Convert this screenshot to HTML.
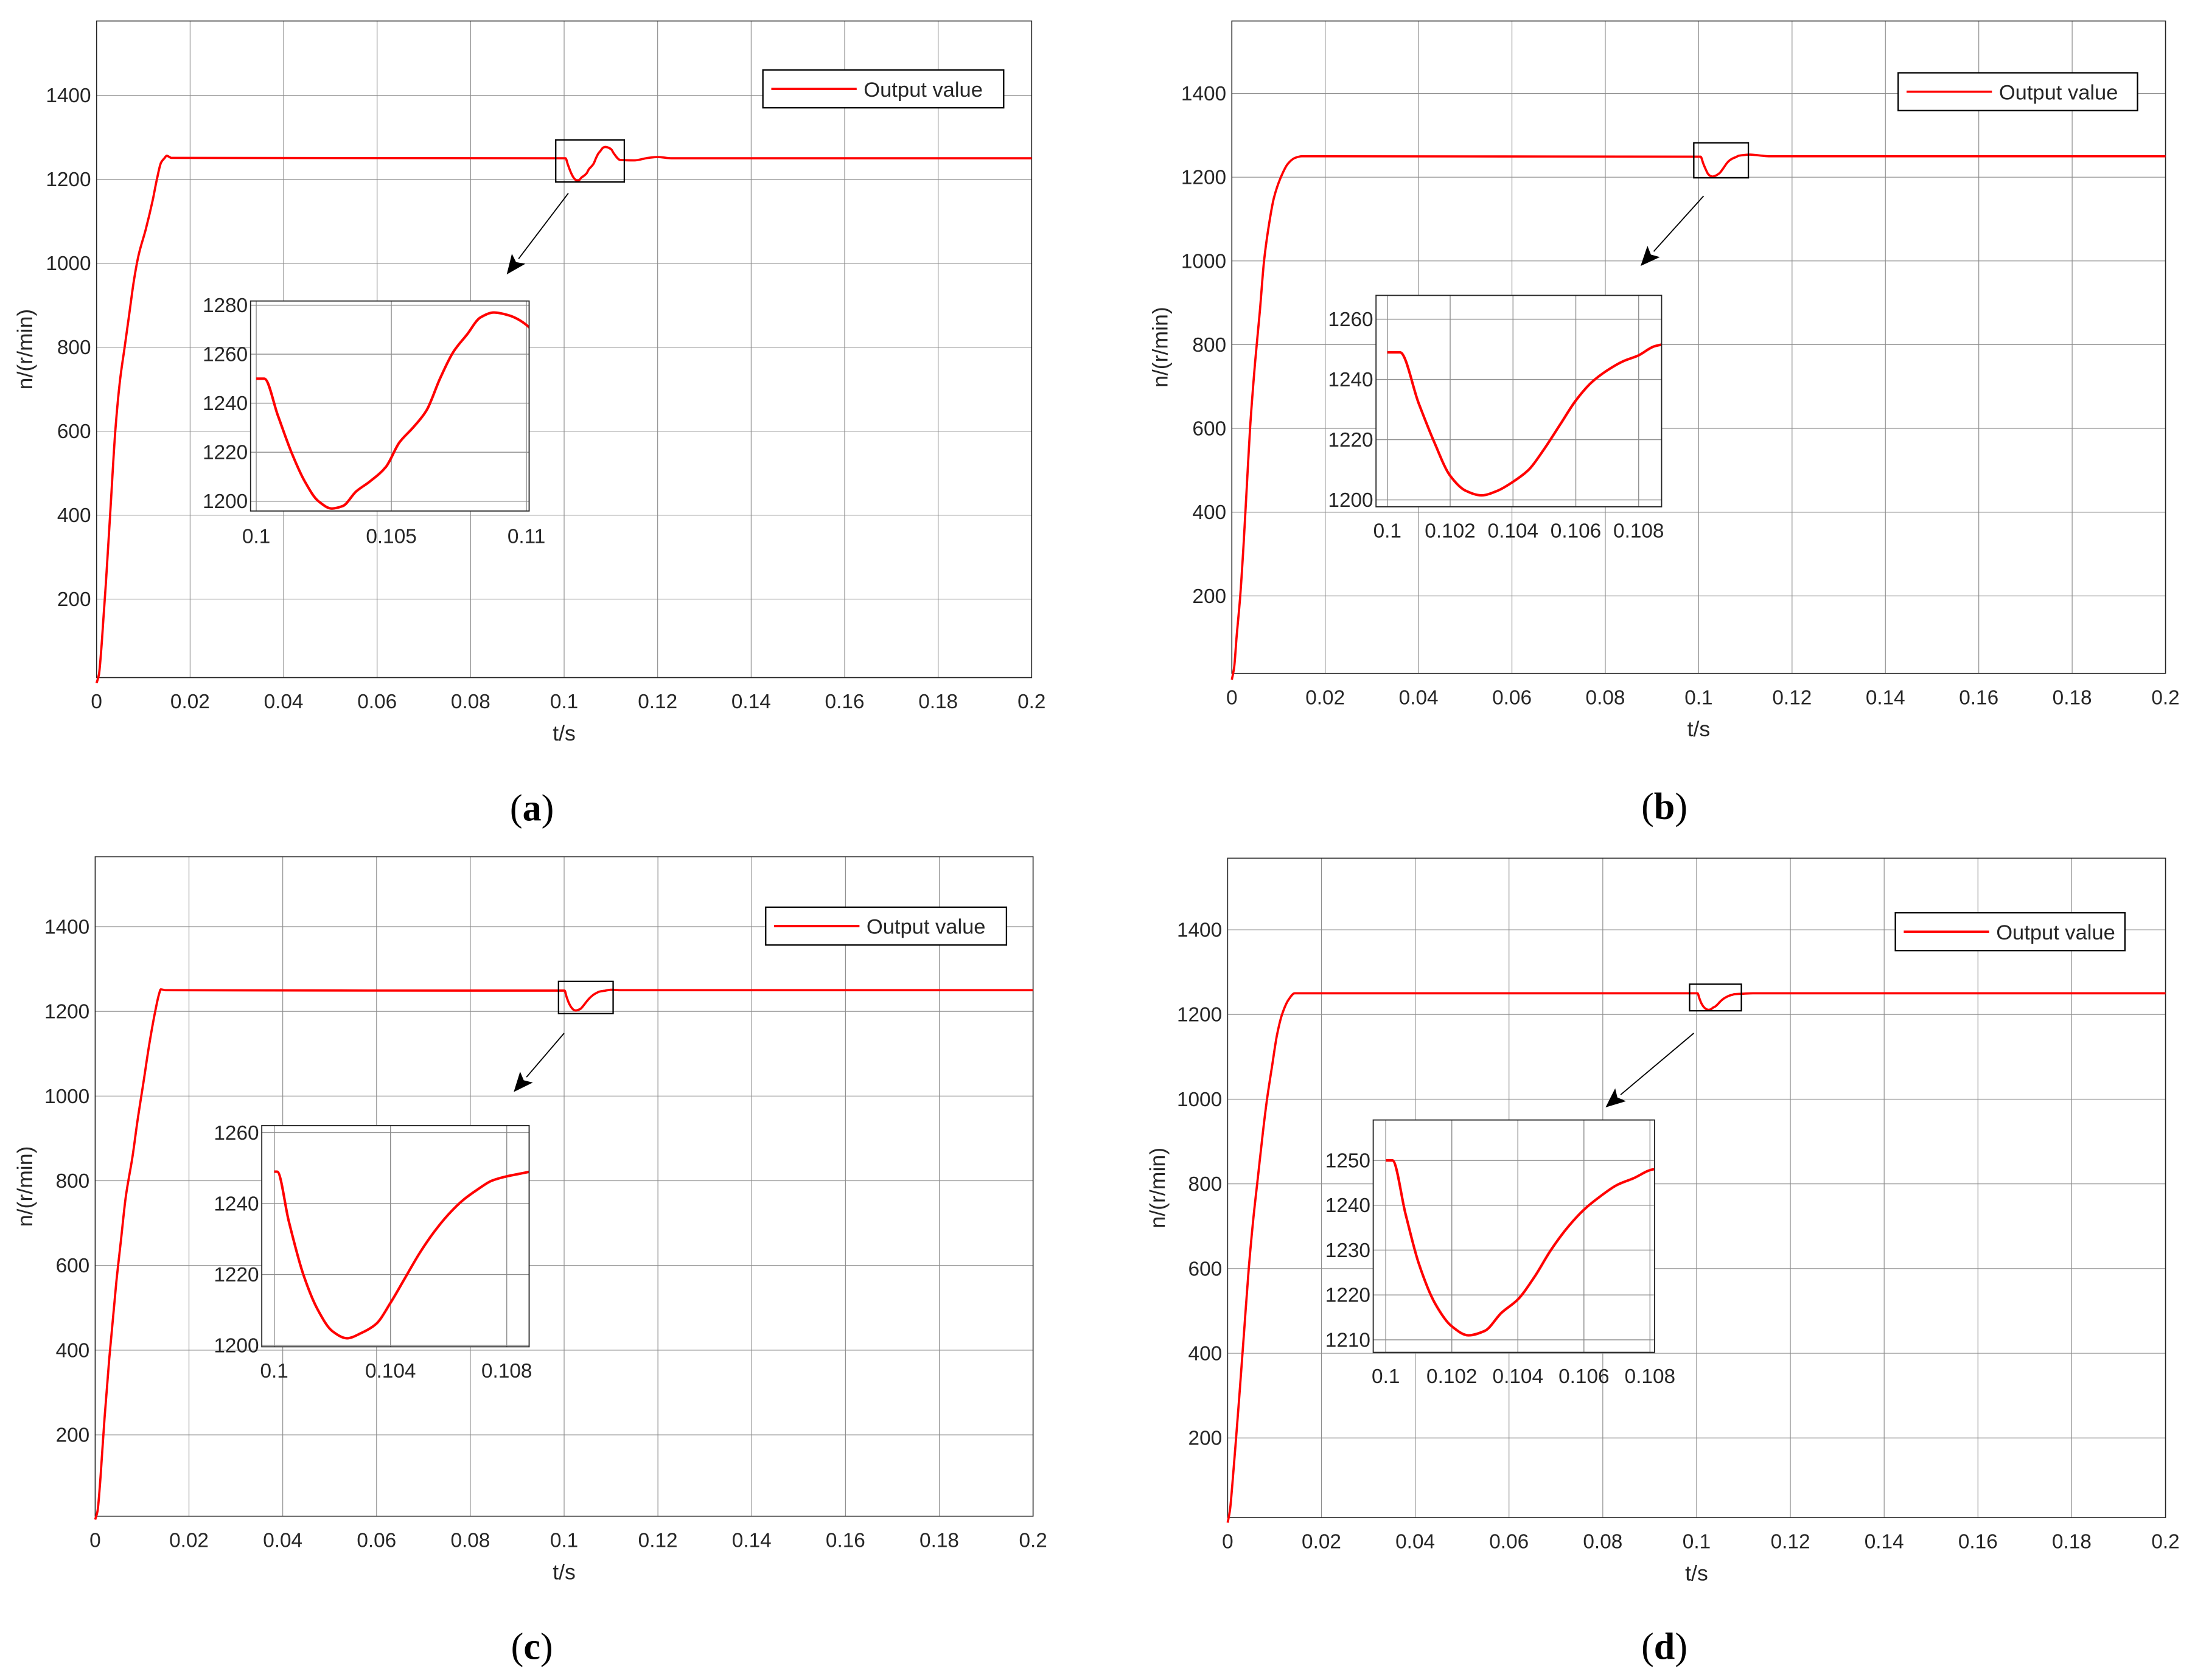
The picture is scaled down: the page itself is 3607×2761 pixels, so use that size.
<!DOCTYPE html>
<html><head><meta charset="utf-8"><style>
html,body{margin:0;padding:0;background:#fff;}
svg{display:block;}
text{font-family:"Liberation Sans",sans-serif;fill:#262626;}
</style></head><body>
<svg id="fig" width="3607" height="2761" viewBox="0 0 3607 2761" xmlns="http://www.w3.org/2000/svg">
<g id="root" transform="scale(2.3003,2.3008)"></g>
</svg>
<script>
// ---- data (t in s, n in r/min) ----
const riseTA=[0,0.0005,0.001,0.0015,0.002,0.003,0.004,0.005,0.006,0.007,0.008,0.009,0.0105,0.012,0.0129,0.0138,0.0145,0.015,0.016];
const riseNA=[0,20,80,160,240,420,600,720,800,880,960,1020,1080,1150,1200,1240,1250,1256,1251];
const distTA=[0.1,0.1003,0.1008,0.1013,0.1018,0.1023,0.1028,0.1032,0.1037,0.1042,0.1048,0.1053,0.1058,0.1063,0.1068,0.1073,0.1078,0.1083,0.1088,0.1093,0.1101,0.1106,0.112,0.115,0.118,0.12,0.123,0.2];
const distNA=[1250,1250,1235,1220,1208,1200,1197,1198,1204,1208,1214,1224,1230,1237,1250,1261,1268,1275,1277,1276,1271,1262,1246,1245,1251,1253,1250,1250];

const riseTB=[0,0.0005,0.001,0.0018,0.0025,0.0032,0.0039,0.005,0.006,0.0069,0.008,0.009,0.0105,0.012,0.0135,0.015,0.016];
const riseNB=[0,30,100,200,320,460,600,760,880,1000,1090,1150,1200,1232,1246,1250,1250];
const distTB=[0.1,0.1004,0.101,0.1015,0.102,0.1025,0.103,0.1035,0.104,0.1045,0.105,0.1055,0.106,0.1065,0.107,0.1075,0.108,0.1085,0.109,0.111,0.113,0.115,0.2];
const distNB=[1249,1249,1232,1219,1208,1203,1201.5,1203,1206,1210,1217,1225,1233,1239,1243,1246,1248,1251,1252,1254,1252,1250,1250];

const riseTC=[0,0.0005,0.001,0.0015,0.002,0.003,0.0045,0.0055,0.0065,0.008,0.009,0.0104,0.0115,0.0128,0.0136,0.014,0.015];
const riseNC=[0,20,80,160,240,380,560,660,760,860,940,1040,1120,1200,1240,1252,1250];
const distTC=[0.1,0.1001,0.1005,0.101,0.1015,0.102,0.1025,0.103,0.1035,0.104,0.1045,0.105,0.1055,0.106,0.1065,0.107,0.1075,0.1088,0.11,0.112,0.2];
const distNC=[1249,1249,1235,1220,1210,1204,1202,1203.5,1206,1212,1219,1226,1232,1237,1241,1244,1246.5,1249,1251,1250,1250];

const riseTD=[0,0.0005,0.001,0.0018,0.0025,0.0035,0.0045,0.0055,0.0065,0.0075,0.0084,0.0095,0.0105,0.0116,0.013,0.0143,0.016];
const riseND=[0,30,90,200,300,450,600,720,820,920,1000,1080,1150,1200,1235,1250,1250];
const distTD=[0.1,0.1002,0.1006,0.101,0.1015,0.102,0.1025,0.103,0.1035,0.104,0.1045,0.105,0.1055,0.106,0.1065,0.107,0.1075,0.1081,0.11,0.112,0.2];
const distND=[1250,1250,1238,1227,1218,1213,1211,1212,1216,1219,1224,1230,1235,1239,1242,1244.5,1246,1248,1249,1250,1250];

const mainXTicks=[0,0.02,0.04,0.06,0.08,0.1,0.12,0.14,0.16,0.18,0.2];
const mainXLabels=["0","0.02","0.04","0.06","0.08","0.1","0.12","0.14","0.16","0.18","0.2"];
const mainYTicks=[200,400,600,800,1000,1200,1400];
const insetXTicksA=[0.1,0.105,0.11];
const insetXLabelsA=["0.1","0.105","0.11"];
const insetYTicksA=[1200,1220,1240,1260,1280];
const insetXTicksBD=[0.1,0.102,0.104,0.106,0.108];
const insetXLabelsBD=["0.1","0.102","0.104","0.106","0.108"];
const insetYTicksB=[1200,1220,1240,1260];
const insetXTicksC=[0.1,0.104,0.108];
const insetXLabelsC=["0.1","0.104","0.108"];
const insetYTicksC=[1200,1220,1240,1260];
const insetYTicksD=[1210,1220,1230,1240,1250];

const NS="http://www.w3.org/2000/svg";
const root=document.getElementById('root');
function el(tag,attrs,parent){const e=document.createElementNS(NS,tag);for(const k in attrs)e.setAttribute(k,attrs[k]);(parent||root).appendChild(e);return e;}

const panels=[
 {id:'a',L:69,R:737,T:15,B:484,y0:13,y1:1577,lx:18,xl:501,ts:524,cap:[380,577],
  leg:[545,50,172,27],zr:[397,100,49,30],ar:[406,138,362,196],
  ins:{L:179,R:378,T:215,B:365,x0:0.09979,x1:0.1101,y0:1196,y1:1281.7,xt:insetXTicksA,xl:insetXLabelsA,yt:insetYTicksA,ly:383},
  rt:riseTA,rn:riseNA,dt:distTA,dn:distNA},
 {id:'b',L:880,R:1547,T:15,B:481,y0:15,y1:1573,lx:829,xl:498,ts:521,cap:[1189,576],
  leg:[1356,52,171,27],zr:[1210,102,39,25],ar:[1217,140,1172,190],
  ins:{L:983,R:1187,T:211,B:362,x0:0.09964,x1:0.10873,y0:1197.7,y1:1267.9,xt:insetXTicksBD,xl:insetXLabelsBD,yt:insetYTicksB,ly:379},
  rt:riseTB,rn:riseNB,dt:distTB,dn:distNB},
 {id:'c',L:68,R:738,T:612,B:1083,y0:8,y1:1565,lx:18,xl:1100,ts:1123,cap:[380,1176],
  leg:[547,648,172,27],zr:[399,701,39,23],ar:[403,738,367,780],
  ins:{L:187,R:378,T:804,B:962,x0:0.09957,x1:0.10877,y0:1199.6,y1:1262,xt:insetXTicksC,xl:insetXLabelsC,yt:insetYTicksC,ly:979},
  rt:riseTC,rn:riseNC,dt:distTC,dn:distNC},
 {id:'d',L:877,R:1547,T:613,B:1084,y0:12,y1:1569,lx:827,xl:1101,ts:1124,cap:[1189,1176],
  leg:[1354,652,164,27],zr:[1207,703,37,19],ar:[1210,738,1147,791],
  ins:{L:981,R:1182,T:800,B:966,x0:0.09962,x1:0.10814,y0:1207.2,y1:1259,xt:insetXTicksBD,xl:insetXLabelsBD,yt:insetYTicksD,ly:983},
  rt:riseTD,rn:riseND,dt:distTD,dn:distND}
];

// monotone cubic (Fritsch-Carlson) path
function linePath(ts,ns,sx,sy){
  const X=ts.map(sx), Y=ns.map(sy), n=X.length;
  const h=[],s=[];
  for(let i=0;i<n-1;i++){h[i]=X[i+1]-X[i];s[i]=h[i]?(Y[i+1]-Y[i])/h[i]:0;}
  const m=[];
  m[0]=s[0];m[n-1]=s[n-2];
  for(let i=1;i<n-1;i++){
    if(s[i-1]*s[i]<=0)m[i]=0;
    else{const w1=2*h[i]+h[i-1],w2=h[i]+2*h[i-1];m[i]=(w1+w2)/(w1/s[i-1]+w2/s[i]);}
  }
  let d='M'+X[0].toFixed(2)+','+Y[0].toFixed(2);
  for(let i=0;i<n-1;i++){
    const dx=h[i]/3;
    d+='C'+(X[i]+dx).toFixed(2)+','+(Y[i]+m[i]*dx).toFixed(2)+' '+(X[i+1]-dx).toFixed(2)+','+(Y[i+1]-m[i+1]*dx).toFixed(2)+' '+X[i+1].toFixed(2)+','+Y[i+1].toFixed(2);
  }
  return d;
}

panels.forEach(p=>{
  const g=el('g',{});
  
  
  const sx=t=>p.L+(t-0)/(0.2)*(p.R-p.L);
  const sy=n=>p.B-(n-p.y0)/(p.y1-p.y0)*(p.B-p.T);
  el('rect',{x:p.L,y:p.T,width:p.R-p.L,height:p.B-p.T,fill:'#fff'},g);
  const grid=el('g',{stroke:'#8c8c8c','stroke-width':0.5},g);
  
  
  mainXTicks.forEach((t,i)=>{
    el('line',{x1:sx(t),x2:sx(t),y1:p.T,y2:p.B},grid);
    const tx=el('text',{x:sx(t),y:p.xl+5,'font-size':14.5,'text-anchor':'middle'},g);
    tx.textContent=mainXLabels[i];
    
    
  });
  mainYTicks.forEach(v=>{
    el('line',{x1:p.L,x2:p.R,y1:sy(v),y2:sy(v)},grid);
    const ty=el('text',{x:p.L-4,y:sy(v)+5,'font-size':14.5,'text-anchor':'end'},g);
    ty.textContent=String(v);
    
    
  });
  el('rect',{x:p.L,y:p.T,width:p.R-p.L,height:p.B-p.T,fill:'none',stroke:'#262626','stroke-width':0.7},g);
  const ts=p.rt.concat(p.dt), ns=p.rn.concat(p.dn);
  const s=el('path',{d:linePath(ts,ns,sx,sy),fill:'none',stroke:'#ff0000','stroke-width':1.6,'stroke-linejoin':'round'},g);
  
  
  const xt=el('text',{x:(p.L+p.R)/2,y:p.ts+5,'font-size':15.5,'text-anchor':'middle'},g);
  xt.textContent='t/s';
  
  
  const yt=el('text',{x:0,y:0,'font-size':15.5,'text-anchor':'middle',transform:`translate(${p.lx+5},${(p.T+p.B)/2}) rotate(-90)`},g);
  yt.textContent='n/(r/min)';
  
  
  const cp=el('text',{x:p.cap[0],y:p.cap[1]+9,'font-size':27,'text-anchor':'middle',style:'font-family:"Liberation Serif",serif;fill:#000'},g);
  cp.innerHTML='(<tspan font-weight="bold">'+p.id+'</tspan>)';
  
  
  const lg=el('g',{},g);
  
  
  el('rect',{x:p.leg[0],y:p.leg[1],width:p.leg[2],height:p.leg[3],fill:'#fff',stroke:'#000','stroke-width':1},lg);
  el('line',{x1:p.leg[0]+6,x2:p.leg[0]+67,y1:p.leg[1]+13.5,y2:p.leg[1]+13.5,stroke:'#ff0000','stroke-width':1.6},lg);
  const lt=el('text',{x:p.leg[0]+72,y:p.leg[1]+19,'font-size':15},lg);
  lt.textContent='Output value';
  
  
  const zr=el('rect',{x:p.zr[0],y:p.zr[1],width:p.zr[2],height:p.zr[3],fill:'none',stroke:'#000','stroke-width':1},g);
  
  
  const [ax1,ay1,ax2,ay2]=p.ar;
  const ang=Math.atan2(ay2-ay1,ax2-ax1);
  const al=14, aw=6;
  const bx=ax2-al*Math.cos(ang), by=ay2-al*Math.sin(ang);
  const arr=el('g',{},g);
  
  
  el('line',{x1:ax1,y1:ay1,x2:bx,y2:by,stroke:'#000','stroke-width':0.8},arr);
  el('polygon',{points:`${ax2},${ay2} ${bx+aw*Math.sin(ang)},${by-aw*Math.cos(ang)} ${bx+3*Math.cos(ang)},${by+3*Math.sin(ang)} ${bx-aw*Math.sin(ang)},${by+aw*Math.cos(ang)}`,fill:'#000'},arr);
  const q=p.ins;
  const ig=el('g',{},g);
  
  
  const ix=t=>q.L+(t-q.x0)/(q.x1-q.x0)*(q.R-q.L);
  const iy=n=>q.B-(n-q.y0)/(q.y1-q.y0)*(q.B-q.T);
  el('rect',{x:q.L,y:q.T,width:q.R-q.L,height:q.B-q.T,fill:'#fff'},ig);
  const igr=el('g',{stroke:'#8c8c8c','stroke-width':0.6},ig);
  q.xt.forEach((t,i)=>{
    el('line',{x1:ix(t),x2:ix(t),y1:q.T,y2:q.B},igr);
    const tx=el('text',{x:ix(t),y:q.ly+5,'font-size':14.5,'text-anchor':'middle'},ig);
    tx.textContent=q.xl[i];
    
    
  });
  q.yt.forEach(v=>{
    el('line',{x1:q.L,x2:q.R,y1:iy(v),y2:iy(v)},igr);
    const ty=el('text',{x:q.L-2,y:iy(v)+5,'font-size':14.5,'text-anchor':'end'},ig);
    ty.textContent=String(v);
    
    
  });
  const cl='clip'+p.id;
  const cpth=el('clipPath',{id:cl},ig);
  el('rect',{x:q.L,y:q.T,width:q.R-q.L,height:q.B-q.T},cpth);
  const is=el('path',{d:linePath(p.dt,p.dn,ix,iy),fill:'none',stroke:'#ff0000','stroke-width':1.8,'clip-path':`url(#${cl})`,'stroke-linejoin':'round'},ig);
  
  
  el('rect',{x:q.L,y:q.T,width:q.R-q.L,height:q.B-q.T,fill:'none',stroke:'#262626','stroke-width':0.8},ig);
});
</script>
</body></html>
